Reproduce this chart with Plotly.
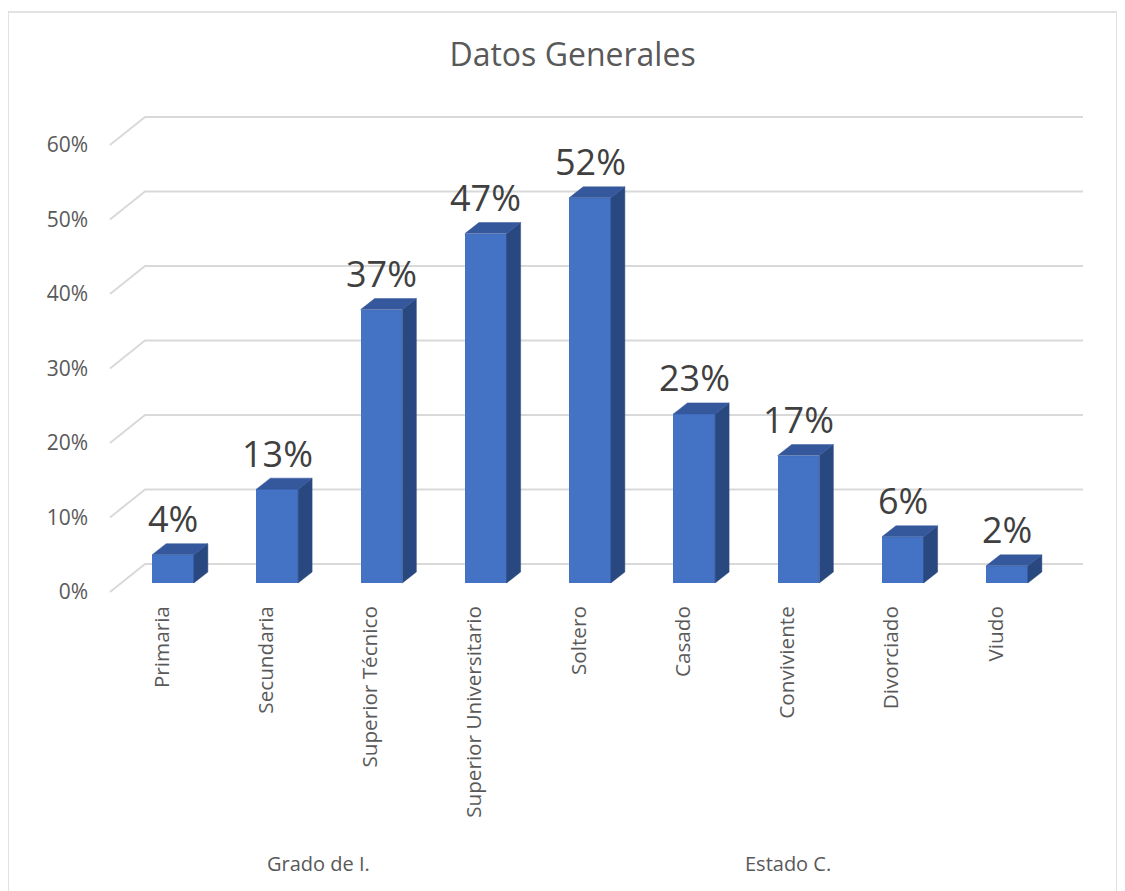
import plotly.graph_objects as go

# ---------------- data ----------------
categories = ["Primaria", "Secundaria", "Superior Técnico", "Superior Universitario",
              "Soltero", "Casado", "Conviviente", "Divorciado", "Viudo"]
values = [0.038, 0.126, 0.367, 0.469, 0.517, 0.227, 0.171, 0.062, 0.023]
groups = ["Grado de I.", "Estado C."]
group_sizes = [4, 5]
y_ticks = [0.0, 0.1, 0.2, 0.3, 0.4, 0.5, 0.6]
y_tick_text = ["0%", "10%", "20%", "30%", "40%", "50%", "60%"]

# ---------------- geometry / style ----------------
X_PX = 104.25      # pixels per category step
Y_PX = 745.0       # pixels per 100 %
BAR_W = 0.4
DEPTH_X = 14 / X_PX
DEPTH_Y = 11 / Y_PX
BACK_X = 24 / X_PX
BACK_Y = 19 / Y_PX
FRONT_X = -11 / X_PX
FRONT_Y = -9 / Y_PX
X_MIN = -73 / X_PX
X_MAX = 927 / X_PX
Y_MIN = -17 / Y_PX
Y_MAX = 483 / Y_PX
GRID_L = -63 / X_PX
GRID_R = 910 / X_PX

FRONT_COL = "#4472C4"
TOP_COL = "#35589C"
SIDE_COL = "#2A4880"
GRID_COL = "#D9D9D9"
TXT = "#595959"
FONT = "Open Sans"

fig = go.Figure()

# gridlines (back wall + left wall diagonal) as shapes below the traces
for v in y_ticks:
    x0, y0 = GRID_L, v + FRONT_Y
    x1, y1 = GRID_L + BACK_X - FRONT_X, v + BACK_Y
    x2 = GRID_R
    fig.add_shape(type="path", xref="x", yref="y", layer="below",
                  path=f"M {x0},{y0} L {x1},{y1} L {x2},{y1}",
                  line=dict(color=GRID_COL, width=2))

xs = list(range(len(categories)))

# front faces
fig.add_trace(go.Bar(x=xs, y=values, width=BAR_W,
                     marker=dict(color=FRONT_COL, line=dict(width=0)),
                     showlegend=False))

# side faces
sx, sy = [], []
for i, v in zip(xs, values):
    r = i + BAR_W / 2
    sx += [r, r, r + DEPTH_X, r + DEPTH_X, r, None]
    sy += [0, v, v + DEPTH_Y, DEPTH_Y, 0, None]
fig.add_trace(go.Scatter(x=sx, y=sy, mode="lines", fill="toself",
                         fillcolor=SIDE_COL, line=dict(color=SIDE_COL, width=0.5),
                         hoverinfo="skip", showlegend=False))

# top faces
tx, ty = [], []
for i, v in zip(xs, values):
    l, r = i - BAR_W / 2, i + BAR_W / 2
    tx += [l, r, r + DEPTH_X, l + DEPTH_X, l, None]
    ty += [v, v, v + DEPTH_Y, v + DEPTH_Y, v, None]
fig.add_trace(go.Scatter(x=tx, y=ty, mode="lines", fill="toself",
                         fillcolor=TOP_COL, line=dict(color=TOP_COL, width=0.5),
                         hoverinfo="skip", showlegend=False))

# data labels
for i, v in zip(xs, values):
    fig.add_annotation(x=i, y=v, text=f"{round(v * 100)}%", showarrow=False,
                       yanchor="middle", yshift=36,
                       font=dict(family=FONT, size=36, color="#404040"))

# group labels
start = 0
for g, n in zip(groups, group_sizes):
    center = start + (n - 1) / 2 + FRONT_X
    fig.add_annotation(x=center, xref="x", y=-0.526, yref="paper", text=g,
                       showarrow=False, yanchor="middle",
                       font=dict(family=FONT, size=20, color=TXT))
    start += n

# outer border
fig.add_shape(type="rect", xref="paper", yref="paper",
              x0=-0.092, x1=1.017, y0=-0.59, y1=1.176,
              line=dict(color="#D9D9D9", width=1.5), layer="below")

fig.update_layout(
    width=1117, height=883,
    margin=dict(l=92, r=25, t=92, b=291),
    paper_bgcolor="white", plot_bgcolor="white",
    title=dict(text="Datos Generales", x=0.5054, xref="container", xanchor="center",
               y=1 - 47 / 883, yref="container", yanchor="middle",
               font=dict(family=FONT, size=32, color=TXT)),
    bargap=0,
    xaxis=dict(range=[X_MIN, X_MAX], tickvals=xs, ticktext=categories,
               tickangle=-90, showgrid=False, zeroline=False, showline=False,
               ticks="", ticklabelshift=-11, ticklabelstandoff=1,
               tickfont=dict(family=FONT, size=20.7, color=TXT), fixedrange=True),
    yaxis=dict(range=[Y_MIN, Y_MAX], tickvals=y_ticks, ticktext=y_tick_text,
               showgrid=False, zeroline=False, showline=False, ticks="",
               ticklabelshift=9, ticklabelstandoff=11,
               tickfont=dict(family=FONT, size=21, color=TXT), fixedrange=True),
)

fig.write_html("out.html")
